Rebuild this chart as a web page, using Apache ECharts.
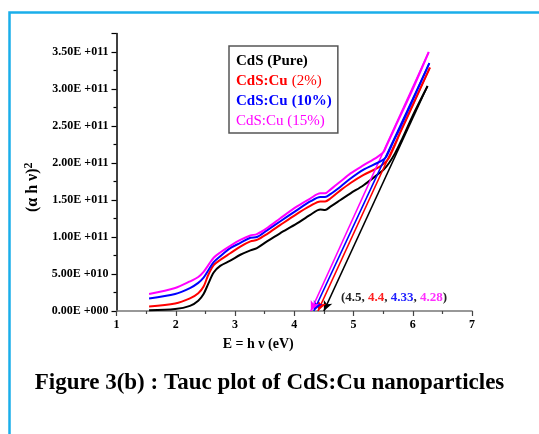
<!DOCTYPE html>
<html>
<head>
<meta charset="utf-8">
<script src="https://cdn.jsdelivr.net/npm/echarts@6/dist/echarts.min.js"></script>
<style>html,body{margin:0;padding:0;background:#fff;}#c{width:539px;height:434px;}</style>
</head>
<body>
<div id="c"></div>
<script>
// values in units of 1e11
const seriesNames = ['CdS (Pure)', 'CdS:Cu (2%)', 'CdS:Cu (10%)', 'CdS:Cu (15%)'];
const seriesColors = ['#000000', '#ff0000', '#0000ff', '#ff00ff'];
const energyX = [1.55, 1.99, 2.24, 2.38, 2.47, 2.55, 2.64, 2.75, 2.92, 3.09, 3.26, 3.37, 3.54, 3.76, 4.04, 4.27, 4.44, 4.52, 4.61, 4.78, 4.95, 5.17, 5.40, 5.51];
const pureY   = [0.01, 0.027, 0.07, 0.14, 0.23, 0.37, 0.52, 0.61, 0.68, 0.76, 0.82, 0.85, 0.94, 1.05, 1.18, 1.30, 1.37, 1.365, 1.41, 1.50, 1.59, 1.70, 1.84, 1.91];
const cu2Y    = [0.06, 0.10, 0.17, 0.24, 0.33, 0.49, 0.62, 0.69, 0.78, 0.87, 0.94, 0.96, 1.04, 1.16, 1.31, 1.42, 1.48, 1.48, 1.52, 1.63, 1.73, 1.84, 1.93, 1.99];
const cu10Y   = [0.17, 0.23, 0.31, 0.38, 0.45, 0.55, 0.66, 0.74, 0.85, 0.92, 0.99, 1.00, 1.09, 1.21, 1.36, 1.48, 1.54, 1.54, 1.58, 1.68, 1.79, 1.91, 2.00, 2.05];
const cu15Y   = [0.23, 0.31, 0.40, 0.46, 0.53, 0.62, 0.72, 0.79, 0.88, 0.96, 1.02, 1.04, 1.12, 1.25, 1.41, 1.52, 1.59, 1.59, 1.64, 1.75, 1.86, 1.97, 2.08, 2.15];
// steep high-energy tails
const pureTailX = [5.6, 5.7, 5.8, 6.0, 6.25];
const pureTailY = [2.0, 2.13, 2.29, 2.64, 3.04];
const cu2TailX  = [5.6, 5.8, 6.0, 6.29];
const cu2TailY  = [2.07, 2.43, 2.78, 3.29];
const cu10TailX = [5.55, 5.65, 5.8, 6.0, 6.28];
const cu10TailY = [2.08, 2.25, 2.5, 2.85, 3.35];
const cu15TailX = [5.55, 5.7, 6.0, 6.27];
const cu15TailY = [2.22, 2.48, 3.0, 3.5];
// linear extrapolation: top point and band-gap intercept
const fitTopX = [6.25, 6.29, 6.28, 6.27];
const fitTopY = [3.04, 3.29, 3.35, 3.5];
const bandGaps = [4.5, 4.4, 4.33, 4.28];
const yTicks = [0, 0.5, 1, 1.5, 2, 2.5, 3, 3.5];

const ys = [pureY, cu2Y, cu10Y, cu15Y];
const tailsX = [pureTailX, cu2TailX, cu10TailX, cu15TailX];
const tailsY = [pureTailY, cu2TailY, cu10TailY, cu15TailY];

function sci(v) {
  const val = v * 1e11;
  if (val === 0) return '0.00E +000';
  const e = Math.floor(Math.log10(val) + 1e-9);
  const m = val / Math.pow(10, e);
  return m.toFixed(2) + 'E +' + String(e).padStart(3, '0');
}

const serif = '"Liberation Serif", "Times New Roman", serif';
const series = seriesNames.map((name, i) => {
  const data = energyX.map((x, k) => [x, ys[i][k]]);
  tailsX[i].forEach((x, k) => data.push([x, tailsY[i][k]]));
  return {
    name: name,
    type: 'line',
    data: data,
    smooth: 0.3,
    showSymbol: false,
    symbol: 'none',
    lineStyle: { color: seriesColors[i], width: 2 },
    itemStyle: { color: seriesColors[i] },
    z: 3 + i,
    markLine: {
      silent: true,
      symbol: ['none', 'arrow'],
      symbolSize: [7, 10],
      label: { show: false },
      lineStyle: { color: seriesColors[i], width: 1.6, type: 'solid' },
      animation: false,
      data: [[{ coord: [fitTopX[i], fitTopY[i]] }, { coord: [bandGaps[i], 0] }]]
    }
  };
});

const legendRich = {
  kb: { color: '#000', fontWeight: 'bold', fontFamily: serif, fontSize: 15 },
  rb: { color: '#ff0000', fontWeight: 'bold', fontFamily: serif, fontSize: 15 },
  rn: { color: '#ff0000', fontWeight: 'normal', fontFamily: serif, fontSize: 15 },
  bb: { color: '#0000ff', fontWeight: 'bold', fontFamily: serif, fontSize: 15 },
  mn: { color: '#ff00ff', fontWeight: 'normal', fontFamily: serif, fontSize: 15 }
};
const legendFmt = {
  'CdS (Pure)': '{kb|CdS (Pure)}',
  'CdS:Cu (2%)': '{rb|CdS:Cu} {rn|(2%)}',
  'CdS:Cu (10%)': '{bb|CdS:Cu} {bb|(10%)}',
  'CdS:Cu (15%)': '{mn|CdS:Cu (15%)}'
};

const chart = echarts.init(document.getElementById('c'), null, { renderer: 'canvas' });
chart.setOption({
  animation: false,
  backgroundColor: '#ffffff',
  title: {
    text: 'Figure 3(b) : Tauc plot of CdS:Cu nanoparticles',
    left: 'center',
    top: 367,
    textStyle: { fontFamily: serif, fontWeight: 'bold', fontSize: 23, color: '#000' }
  },
  legend: {
    orient: 'vertical',
    left: 229,
    top: 46,
    padding: [7, 6, 3, 2],
    itemGap: 3,
    itemWidth: 0,
    itemHeight: 0,
    icon: 'rect',
    borderColor: '#555',
    borderWidth: 1.5,
    selectedMode: false,
    data: seriesNames,
    formatter: n => legendFmt[n],
    textStyle: { rich: legendRich, fontSize: 15, lineHeight: 17 }
  },
  grid: { left: 116.5, right: 67, top: 33.5, bottom: 123, containLabel: false },
  xAxis: {
    type: 'value',
    min: 1, max: 7, interval: 1,
    name: 'E = h ν (eV)',
    nameLocation: 'middle',
    nameGap: 26,
    nameTextStyle: { fontFamily: serif, fontWeight: 'bold', fontSize: 14, color: '#000', padding: [0, 72, 0, 0] },
    axisLine: { onZero: false, lineStyle: { color: '#777', width: 1.5 } },
    axisTick: { show: true, length: 5, lineStyle: { color: '#444', width: 1.2 } },
    minorTick: { show: true, splitNumber: 2, length: 3, lineStyle: { color: '#444', width: 1.2 } },
    axisLabel: { fontFamily: serif, fontWeight: 'bold', fontSize: 12, color: '#000', margin: 8 },
    splitLine: { show: false }
  },
  yAxis: {
    type: 'value',
    min: 0, max: 3.75, interval: 0.5,
    name: '{n|(α h ν)}{s|2}',
    nameLocation: 'middle',
    nameGap: 64,
    nameRotate: 90,
    nameTextStyle: {
      padding: [0, 30, 0, 0],
      rich: {
        n: { fontFamily: serif, fontWeight: 'bold', fontSize: 16, color: '#000' },
        s: { fontFamily: serif, fontWeight: 'bold', fontSize: 12, color: '#000', verticalAlign: 'top', padding: [0, 0, 8, 0] }
      }
    },
    axisLine: { show: true, lineStyle: { color: '#000', width: 1.5 } },
    axisTick: { show: true, length: 5, lineStyle: { color: '#000', width: 1.2 } },
    minorTick: { show: true, splitNumber: 2, length: 3, lineStyle: { color: '#000', width: 1.2 } },
    axisLabel: {
      fontFamily: serif, fontWeight: 'bold', fontSize: 12, color: '#000', margin: 8,
      showMaxLabel: false,
      formatter: v => (yTicks.indexOf(v) >= 0 ? sci(v) : '')
    },
    splitLine: { show: false }
  },
  graphic: [
    {
      type: 'rect', left: 7, top: 10, silent: true,
      shape: { width: 545, height: 440 },
      style: { fill: 'none', stroke: '#1aaeea', lineWidth: 2.5 }
    },
    {
      type: 'text', left: 341, top: 291, silent: true,
      style: {
        text: '{k|(4.5, }{r|4.4}{k|, }{b|4.33}{k|, }{m|4.28}{k|)}',
        rich: {
          k: { fill: '#222', fontFamily: serif, fontWeight: 'bold', fontSize: 13 },
          r: { fill: '#ff2020', fontFamily: serif, fontWeight: 'bold', fontSize: 13 },
          b: { fill: '#2020ff', fontFamily: serif, fontWeight: 'bold', fontSize: 13 },
          m: { fill: '#ff30ff', fontFamily: serif, fontWeight: 'bold', fontSize: 13 }
        }
      }
    }
  ],
  series: series
});
</script>
</body>
</html>
